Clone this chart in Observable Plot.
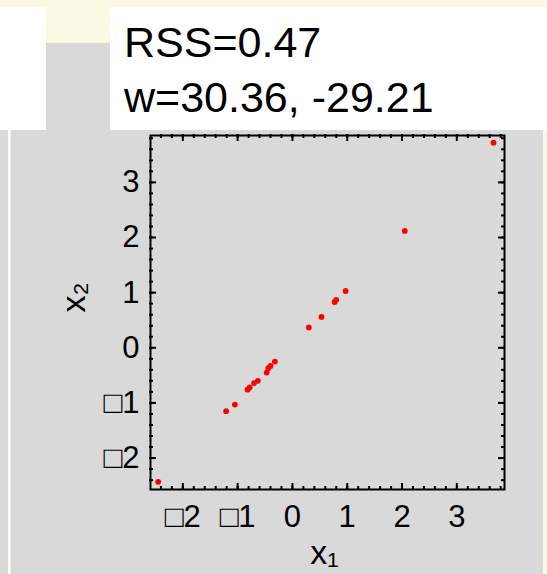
<!DOCTYPE html>
<html>
<head>
<meta charset="utf-8">
<script src="https://cdn.jsdelivr.net/npm/d3@7"></script>
<script src="https://cdn.jsdelivr.net/npm/@observablehq/plot@0.6"></script>
<style>
  html, body { margin: 0; padding: 0; }
  body { width: 547px; height: 574px; position: relative; overflow: hidden; background: #d9d9d9; font-family: "Liberation Sans", Arial, sans-serif; }
  .abs { position: absolute; }
  #chart { position: absolute; left: 0; top: 0; }
</style>
</head>
<body>
<div class="abs" style="left:0;top:0;width:547px;height:43px;background:#fafae4;"></div>
<div class="abs" style="left:0;top:7px;width:46px;height:123px;background:#ffffff;"></div>
<div class="abs" style="left:110px;top:7px;width:437px;height:123px;background:#ffffff;"></div>
<div class="abs" style="left:8px;top:130px;width:2px;height:444px;background:#ffffff;"></div>
<div class="abs" style="left:10px;top:130px;width:1px;height:444px;background:#f6f6dc;"></div>
<div class="abs" style="left:543px;top:130px;width:4px;height:444px;background:#fafae4;"></div>
<div id="title" class="abs" style="left:124px;top:15px;font-size:43px;line-height:55px;color:#000;white-space:pre;"></div>
<div id="chart"></div>
<script>
// ---- data ----
const titleLines = ["RSS=0.47", "w=30.36, -29.21"];
const x1Values = [3.67, 2.05, 0.97, 0.80, 0.77, 0.53, 0.30, -0.32, -0.40, -0.44, -0.47, -0.63, -0.70, -0.78, -0.82, -1.05, -1.21, -2.45];
const x2Values = [3.72, 2.12, 1.03, 0.87, 0.83, 0.56, 0.37, -0.25, -0.33, -0.37, -0.45, -0.60, -0.64, -0.72, -0.76, -1.03, -1.15, -2.43];
const xTickValues = [-2, -1, 0, 1, 2, 3];
const yTickValues = [-2, -1, 0, 1, 2, 3];
const xDomain = [-2.59, 3.87];
const yDomain = [-2.57, 3.85];
const xLabel = "x₁";
const yLabel = "x₂";

document.getElementById("title").textContent = titleLines.join("\n");

const points = x1Values.map((v, i) => ({x1: v, x2: x2Values[i]}));
const minorTicks = d3.range(-12, 20).map(i => i / 5);
const fmt = d => d < 0 ? "\u25A1" + Math.abs(d) : String(d);

const W = 547, H = 574, mL = 150, mR = 43, mT = 135, mB = 85;
const fw = W - mL - mR, fh = H - mT - mB;

const chart = Plot.plot({
  width: W, height: H,
  marginLeft: mL, marginRight: mR, marginTop: mT, marginBottom: mB,
  x: {domain: xDomain},
  y: {domain: yDomain},
  style: {background: "none", fontFamily: "Liberation Sans, Arial, sans-serif", color: "black", overflow: "visible"},
  marks: [
    Plot.axisX(xTickValues, {tickSize: 0, tickPadding: 15, fontSize: 31, tickFormat: fmt, label: null}),
    Plot.axisY(yTickValues, {tickSize: 0, tickPadding: 11, fontSize: 31, tickFormat: fmt, label: null}),
    // minor ticks, all four sides
    Plot.tickX(minorTicks, {x: d => d, insetTop: fh - 3, insetBottom: -1, strokeWidth: 2}),
    Plot.tickX(minorTicks, {x: d => d, insetBottom: fh - 3, insetTop: -1, strokeWidth: 2}),
    Plot.tickY(minorTicks, {y: d => d, insetRight: fw - 3, insetLeft: -1, strokeWidth: 2}),
    Plot.tickY(minorTicks, {y: d => d, insetLeft: fw - 3, insetRight: -1, strokeWidth: 2}),
    // major ticks
    Plot.tickX(xTickValues, {x: d => d, insetTop: fh - 6, insetBottom: -1, strokeWidth: 2}),
    Plot.tickX(xTickValues, {x: d => d, insetBottom: fh - 6, insetTop: -1, strokeWidth: 2}),
    Plot.tickY(yTickValues, {y: d => d, insetRight: fw - 6, insetLeft: -1, strokeWidth: 2}),
    Plot.tickY(yTickValues, {y: d => d, insetLeft: fw - 6, insetRight: -1, strokeWidth: 2}),
    Plot.frame({stroke: "black", strokeWidth: 2}),
    Plot.dot(points, {x: "x1", y: "x2", r: 2.9, fill: "#ff0000", stroke: "none"}),
    Plot.text([xLabel], {frameAnchor: "bottom", dy: 64, dx: -3, fontSize: 34, lineAnchor: "middle", fill: "black"}),
    Plot.text([yLabel], {frameAnchor: "left", dx: -76, fontSize: 34, rotate: -90, lineAnchor: "middle", fill: "black"})
  ]
});
document.getElementById("chart").appendChild(chart);
</script>
</body>
</html>
